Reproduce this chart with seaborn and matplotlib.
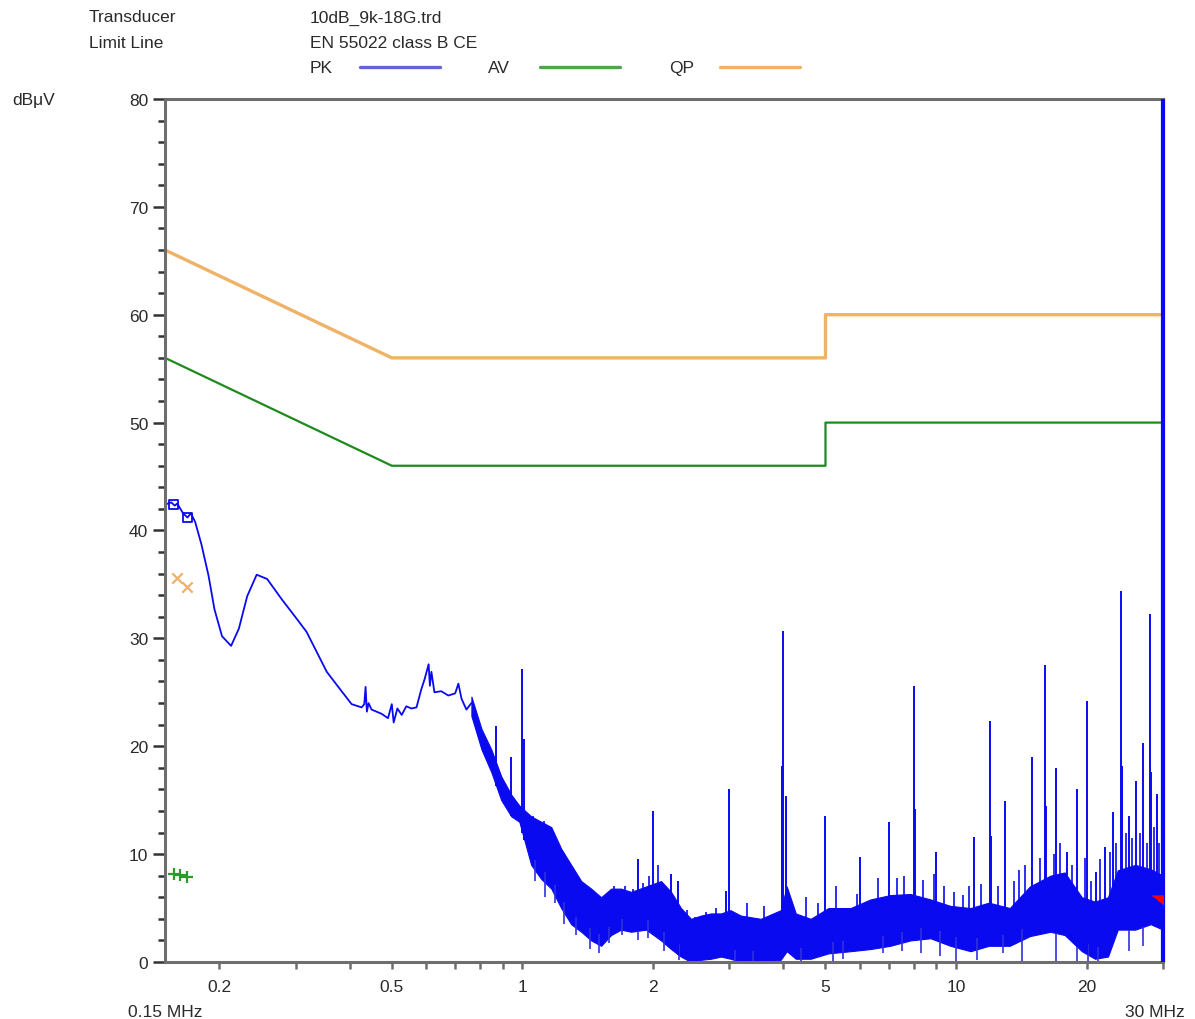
import numpy as np
import matplotlib
matplotlib.use("Agg")
import matplotlib.pyplot as plt
import seaborn as sns
from matplotlib.lines import Line2D

# limit lines (EN 55022 class B, conducted)
limit_freq = [0.15, 0.5, 5.0, 5.0, 30.0]
qp_limit = [66.0, 56.0, 56.0, 60.0, 60.0]
av_limit = [56.0, 46.0, 46.0, 50.0, 50.0]

# peak trace, low frequency part
pk_freq = [0.150, 0.155, 0.158, 0.160, 0.165, 0.169, 0.172, 0.176, 0.182, 0.189,
           0.195, 0.203, 0.213, 0.222, 0.232, 0.244, 0.258, 0.279, 0.302, 0.318,
           0.336, 0.354, 0.383, 0.404, 0.426, 0.432, 0.435, 0.438, 0.442, 0.449,
           0.474, 0.490, 0.500, 0.505, 0.515, 0.527, 0.540, 0.555, 0.570, 0.585,
           0.595, 0.608, 0.612, 0.617, 0.627, 0.650, 0.675, 0.700, 0.712, 0.724,
           0.743, 0.763]
pk_level = [42.4, 42.6, 42.3, 42.5, 41.6, 41.2, 41.6, 40.8, 38.7, 35.8,
            32.7, 30.2, 29.3, 30.9, 33.9, 35.9, 35.5, 33.6, 31.8, 30.6,
            28.7, 26.9, 25.1, 23.9, 23.6, 23.9, 25.5, 23.2, 24.0, 23.4,
            23.0, 22.6, 23.9, 22.2, 23.5, 22.9, 23.7, 23.5, 23.6, 25.3,
            26.2, 27.6, 25.6, 26.9, 25.0, 25.1, 24.7, 24.9, 25.8, 24.4,
            23.4, 24.0]

# peak trace, noise band (upper / lower envelope)
band_freq = [0.763, 0.805, 0.848, 0.894, 0.943, 0.984, 1.048, 1.105, 1.166, 1.229,
             1.296, 1.367, 1.441, 1.519, 1.602, 1.689, 1.781, 1.929, 2.088, 2.202,
             2.321, 2.448, 2.581, 2.721, 2.869, 3.02, 3.19, 3.546, 3.942, 4.07,
             4.27, 4.622, 5.08, 5.713, 6.35, 7.05, 7.85, 8.73, 9.70, 10.8,
             11.9, 13.3, 14.8, 16.5, 17.8, 19.5, 20.9, 22.4, 23.6, 25.9,
             28.1, 30.0]
band_hi = [24.6, 21.6, 19.7, 17.2, 15.5, 14.5, 13.5, 13.0, 12.5, 10.5,
           9.0, 7.5, 6.8, 6.0, 6.8, 6.8, 6.5, 7.0, 7.5, 6.5,
           5.0, 4.0, 4.3, 4.5, 4.5, 4.8, 4.3, 4.0, 4.8, 7.0,
           4.5, 4.0, 5.0, 5.0, 5.8, 6.2, 6.3, 5.8, 5.2, 5.0,
           5.5, 5.0, 7.0, 8.0, 8.3, 6.0, 5.6, 6.0, 8.5, 9.0,
           8.6, 8.0]
band_lo = [22.8, 19.7, 17.6, 15.0, 13.5, 13.0, 9.0, 7.7, 6.8, 5.0,
           3.5, 2.8, 2.0, 1.5, 2.5, 3.0, 2.8, 3.0, 2.0, 1.2,
           0.5, 0.0, 0.2, 0.3, 0.5, 0.3, 0.0, 0.0, 0.2, 1.0,
           0.3, 0.3, 0.8, 1.0, 1.2, 1.5, 2.0, 2.2, 1.5, 1.0,
           1.5, 1.5, 2.4, 2.8, 2.5, 1.0, 0.3, 0.5, 3.0, 3.0,
           3.5, 3.0]

# small noise peaks above the band and dips below it
grass_up_freq = [1.06, 1.09, 1.12, 1.15, 1.20, 1.26, 1.32, 1.40, 1.48, 1.55,
                 1.63, 1.72, 1.80, 1.90, 1.96, 2.05, 2.13, 2.40, 2.50, 2.65,
                 2.80, 3.3, 3.6, 4.5, 4.8, 5.3, 5.9, 6.6, 7.3, 7.6,
                 8.4, 8.9, 9.4, 9.9, 10.4, 10.7, 11.4, 12.5, 13.6, 14.0,
                 14.4, 15.6, 16.8, 17.4, 18.5, 19.8, 20.5, 21.5, 22.6, 23.4,
                 24.6, 25.5, 26.5, 27.5, 28.6, 29.4]
grass_up_level = [13.5, 12.8, 13.1, 11.5, 10.5, 9.2, 8.0, 7.0, 6.4, 5.8,
                  7.0, 7.0, 6.8, 7.3, 8.0, 9.0, 7.0, 4.8, 4.2, 4.6,
                  5.0, 5.5, 5.2, 6.0, 5.5, 7.0, 6.3, 7.8, 7.8, 8.0,
                  7.6, 8.2, 7.0, 6.5, 6.2, 7.0, 7.2, 7.0, 7.5, 8.5,
                  9.0, 9.6, 10.0, 11.0, 9.0, 9.6, 7.5, 9.5, 10.2, 11.0,
                  12.0, 11.5, 12.0, 11.0, 12.5, 11.0]
grass_dn_freq = [1.07, 1.13, 1.19, 1.25, 1.33, 1.43, 1.50, 1.58, 1.70, 1.85,
                 1.95, 2.12, 2.30, 3.1, 3.4, 4.4, 5.2, 5.5, 6.8, 7.5,
                 8.3, 9.2, 10.0, 11.2, 12.8, 14.2, 17.0, 19.0, 20.2, 21.3,
                 22.0, 25.0, 27.0]
grass_dn_level = [7.5, 6.0, 5.5, 3.5, 2.5, 1.2, 0.8, 1.8, 2.5, 2.0,
                  2.2, 1.0, 0.2, 0.0, 0.0, 0.0, 0.0, 0.3, 0.8, 1.0,
                  0.8, 0.6, 0.0, 0.2, 0.8, 0.0, 0.0, 0.0, 0.0, 0.0,
                  0.5, 1.0, 1.5]

# harmonic spikes on the peak trace
spike_freq = [0.871, 0.943, 1.0, 1.01, 1.848, 2.0, 2.2, 2.29, 2.95, 3.0,
              3.97, 4.0, 4.05, 5.0, 6.0, 7.0, 8.0, 8.05, 9.0, 11.0,
              12.0, 12.05, 13.0, 15.0, 16.0, 16.1, 17.0, 18.0, 19.0, 20.0,
              21.0, 22.0, 23.0, 24.0, 24.1, 25.0, 26.0, 27.0, 28.0, 28.1,
              29.0]
spike_level = [21.9, 19.0, 27.2, 20.7, 9.5, 14.0, 8.2, 7.5, 6.6, 16.0,
               18.2, 30.7, 15.4, 13.5, 9.7, 13.0, 25.6, 14.2, 10.2, 11.6,
               22.3, 11.7, 14.9, 19.0, 27.5, 14.5, 18.0, 10.2, 16.0, 24.2,
               8.3, 10.7, 13.9, 34.4, 18.2, 13.5, 16.8, 20.3, 32.3, 17.6,
               15.6]
pk_end_freq = 30.0
pk_end_level = 80.0

# final measurement markers
pk_mark_freq = [0.157, 0.169]
pk_mark_level = [42.4, 41.2]
qp_mark_freq = [0.160, 0.169]
qp_mark_level = [35.6, 34.8]
av_mark_freq = [0.157, 0.162, 0.169]
av_mark_level = [8.2, 8.1, 7.9]
red_mark_freq = [30.0]
red_mark_level = [5.7]

x_major = [0.2, 0.5, 1, 2, 5, 10, 20]
x_minor = [0.3, 0.4, 0.6, 0.7, 0.8, 0.9, 3, 4, 6, 7, 8, 9, 30]

BLUE = "#0a0af0"
GREEN = "#1e8a1e"
ORANGE = "#f0b266"
GRAY = "#6e6e6e"
TXT = "#2a2a2a"

sns.set_style("ticks")
plt.rcParams["font.family"] = ["Liberation Sans", "DejaVu Sans"]

fig = plt.figure(figsize=(11.95, 10.2), dpi=100)
ax = fig.add_axes([0.1381, 0.0559, 0.8351, 0.8461])
ax.set_xscale("log")

sns.lineplot(x=limit_freq, y=qp_limit, ax=ax, color=ORANGE, lw=2.4,
             sort=False, estimator=None)
sns.lineplot(x=limit_freq, y=av_limit, ax=ax, color=GREEN, lw=1.6,
             sort=False, estimator=None)

# peak trace
ax.fill_between(band_freq, band_lo, band_hi, color=BLUE, lw=0.8, edgecolor=BLUE)
sns.lineplot(x=pk_freq, y=pk_level, ax=ax, color=BLUE, lw=1.3,
             sort=False, estimator=None)

lf = np.log(band_freq)
up_base = np.interp(np.log(grass_up_freq), lf, band_hi)
ax.vlines(grass_up_freq, up_base - 1.0, grass_up_level, colors=BLUE, lw=1.2)
dn_base = np.interp(np.log(grass_dn_freq), lf, band_lo)
ax.vlines(grass_dn_freq, grass_dn_level, dn_base + 1.0, colors="#3030e0", lw=1.2)

base = np.interp(np.log(spike_freq), lf, band_lo)
ax.vlines(spike_freq, base, spike_level, colors=BLUE, lw=1.4)
ax.vlines([pk_end_freq], [0], [pk_end_level], colors=BLUE, lw=3, clip_on=False,
          zorder=5)

sns.scatterplot(x=pk_mark_freq, y=pk_mark_level, ax=ax, marker="s", s=45,
                facecolor="none", edgecolor=BLUE, linewidth=1.3)
sns.scatterplot(x=qp_mark_freq, y=qp_mark_level, ax=ax, marker="x", s=55,
                color=ORANGE, linewidth=1.6)
sns.scatterplot(x=av_mark_freq, y=av_mark_level, ax=ax, marker="+", s=70,
                color="#2e9a2e", linewidth=1.6)
ax.plot(red_mark_freq, red_mark_level, marker=[(-1, 0.4), (1, 0.4), (0, -0.4)],
        ms=16, color="red", ls="none", zorder=6)

ax.set_xlim(0.15, 30)
ax.set_ylim(0, 80)

ax.set_xticks(x_major)
ax.set_xticklabels(["0.2", "0.5", "1", "2", "5", "10", "20"])
ax.set_xticks(x_minor, minor=True)
ax.xaxis.set_minor_formatter(matplotlib.ticker.NullFormatter())
ax.set_yticks(np.arange(0, 81, 10))
ax.set_yticks(np.arange(0, 81, 2), minor=True)

ax.tick_params(axis="x", which="both", length=5, width=1.8, color=GRAY,
               labelsize=12.5, labelcolor=TXT, pad=7)
ax.tick_params(axis="y", which="major", length=9, width=1.8, color="#333333",
               labelsize=12.5, labelcolor=TXT, pad=3)
ax.tick_params(axis="y", which="minor", length=5, width=1.8, color="#333333")

for side in ["left", "bottom", "top", "right"]:
    ax.spines[side].set_visible(True)
    ax.spines[side].set_color(GRAY)
    ax.spines[side].set_linewidth(2.2)
ax.set_xlabel("")
ax.set_ylabel("")

# header
fs = 12.5
fig.text(0.0745, 0.9824, "Transducer", fontsize=fs, color=TXT, va="center")
fig.text(0.0745, 0.9578, "Limit Line", fontsize=fs, color=TXT, va="center")
fig.text(0.2594, 0.9824, "10dB_9k-18G.trd", fontsize=fs, color=TXT, va="center")
fig.text(0.2594, 0.9578, "EN 55022 class B CE", fontsize=fs, color=TXT, va="center")
for name, x0, x1, col in [("PK", 0.2594, 0.3013, "#6464d8"),
                          ("AV", 0.4084, 0.4519, "#4fa44f"),
                          ("QP", 0.5598, 0.6025, ORANGE)]:
    fig.text(x0, 0.9333, name, fontsize=fs, color=TXT, va="center")
    fig.add_artist(Line2D([x1, x1 + 0.067], [0.9333, 0.9333], color=col, lw=2.4))

fig.text(0.010, 0.901, "dBμV", fontsize=fs, color=TXT, va="center")
fig.text(0.1071, 0.0078, "0.15 MHz", fontsize=fs, color=TXT, va="center")
fig.text(0.9414, 0.0078, "30 MHz", fontsize=fs, color=TXT, va="center")

fig.savefig("out.png", dpi=100)
